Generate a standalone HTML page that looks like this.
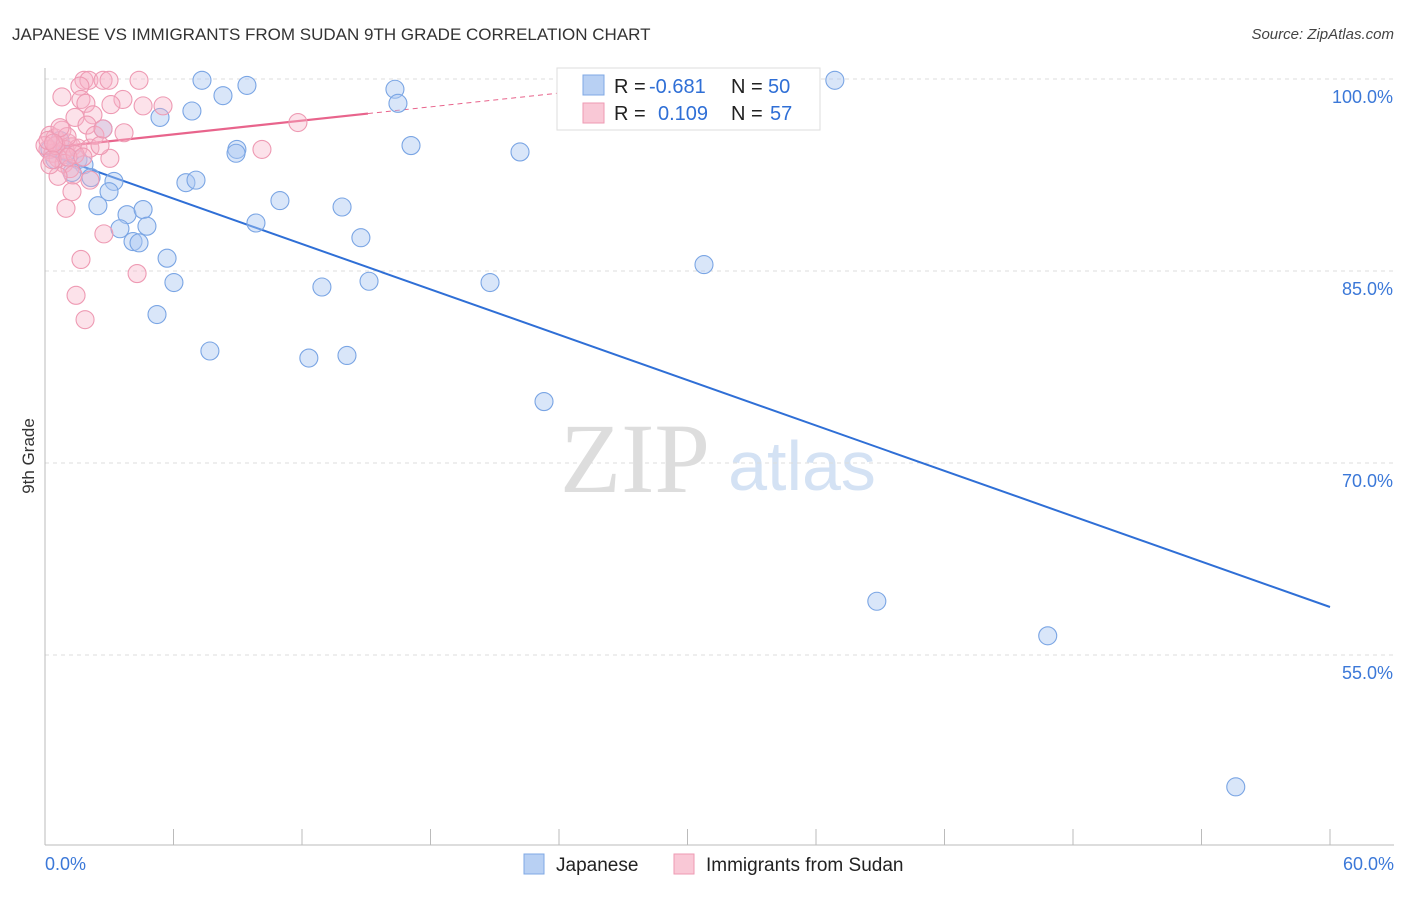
<!DOCTYPE html>
<html><head><meta charset="utf-8"><style>
body{margin:0;background:#fff;font-family:"Liberation Sans",sans-serif}
</style></head><body>
<svg id="c" width="1406" height="892" viewBox="0 0 1406 892" font-family="Liberation Sans, sans-serif">
<text x="12" y="40" font-size="17" fill="#333">JAPANESE VS IMMIGRANTS FROM SUDAN 9TH GRADE CORRELATION CHART</text>
<text x="1394" y="39" font-size="15" fill="#444" font-style="italic" text-anchor="end">Source: ZipAtlas.com</text>
<text x="34" y="456" font-size="17" fill="#333" transform="rotate(-90 34 456)" text-anchor="middle">9th Grade</text>
<g><text x="635" y="492" font-size="100" fill="#ddd" text-anchor="middle" style="font-family:'Liberation Serif',serif">ZIP</text><text x="802" y="490" font-size="70" fill="#d4e2f4" text-anchor="middle">atlas</text></g>
<g id="grid"></g><g id="axes"></g><g id="trend"></g><g id="pts"></g>
<g>
<rect x="557" y="68" width="263" height="62" fill="#fff" stroke="#ddd"/>
<rect x="583" y="75" width="21" height="20" fill="#b8d0f3" stroke="#7fa8e4"/>
<rect x="583" y="103" width="21" height="20" fill="#f9c8d6" stroke="#ee9ab3"/>
<text x="614" y="93" font-size="20" fill="#222">R =</text><text x="649" y="93" font-size="20" fill="#2f6fd6">-0.681</text>
<text x="731" y="93" font-size="20" fill="#222">N =</text><text x="768" y="93" font-size="20" fill="#2f6fd6">50</text>
<text x="614" y="120" font-size="20" fill="#222">R =</text><text x="658" y="120" font-size="20" fill="#2f6fd6">0.109</text>
<text x="731" y="120" font-size="20" fill="#222">N =</text><text x="770" y="120" font-size="20" fill="#2f6fd6">57</text>
</g>
<g>
<rect x="524" y="854" width="20" height="20" fill="#b8d0f3" stroke="#7fa8e4"/>
<text x="556" y="871" font-size="19" fill="#222">Japanese</text>
<rect x="674" y="854" width="20" height="20" fill="#f9c8d6" stroke="#ee9ab3"/>
<text x="706" y="871" font-size="19" fill="#222">Immigrants from Sudan</text>
</g>
</svg>
<script>
const yTicks=[100,85,70,55];
const xTickLabels=["0.0%","60.0%"];
const blueX=[7.33,9.43,8.31,16.34,16.48,6.86,5.37,2.71,8.96,8.92,17.09,22.18,1.54,1.82,1.26,2.15,3.22,6.58,7.05,2.99,10.97,2.47,13.87,3.83,4.58,9.85,3.5,4.76,14.75,4.11,4.39,5.7,30.77,6.02,12.93,15.13,20.78,5.23,7.7,12.32,14.1,23.3,38.84,46.82,55.6,36.88,0.47,0.93,0.23,0.7];
const blueY=[99.9,99.5,98.7,99.2,98.1,97.5,97.0,96.1,94.5,94.2,94.8,94.3,93.7,93.3,92.7,92.3,92.0,91.9,92.1,91.2,90.5,90.1,90.0,89.4,89.8,88.75,88.3,88.5,87.6,87.3,87.2,86.0,85.5,84.1,83.75,84.2,84.1,81.6,78.75,78.2,78.4,74.8,59.2,56.5,44.7,99.9,93.7,94.1,94.5,95.2];
const pinkX=[1.82,2.05,2.71,2.99,4.39,1.63,0.79,1.68,1.91,3.64,3.08,4.58,5.51,2.24,1.4,1.96,3.69,11.81,10.13,0.23,0.47,1.07,1.26,0.14,0.37,0.93,1.54,2.1,0.61,0.89,1.17,3.03,1.31,2.1,0.61,1.26,0.98,2.75,1.68,4.3,1.45,1.87,0.23,0.79,0.0,0.51,1.03,1.4,2.33,0.33,1.07,1.77,2.57,0.7,0.14,2.71,0.4];
const pinkY=[99.9,99.9,99.9,99.9,99.9,99.45,98.6,98.4,98.1,98.4,98.0,97.9,97.9,97.2,97.0,96.4,95.8,96.6,94.5,95.6,95.4,95.0,94.7,94.5,94.2,94.5,94.6,94.6,93.8,93.4,93.0,93.8,92.5,92.1,92.4,91.2,89.9,87.9,85.9,84.8,83.1,81.2,93.3,96.0,94.8,94.8,95.5,94.1,95.6,93.7,93.9,93.9,94.8,96.2,95.2,96.1,95.0];
const blueTrend=[[0,94.2],[60,58.75]];
const pinkTrend=[[0,94.6],[15.08,97.3]];
const pinkDash=[[15.08,97.3],[24,98.9]];
const X=v=>45+v*1285/60, Y=v=>79+(100-v)*12.8;
const NS="http://www.w3.org/2000/svg";
function mk(t,a,p){const e=document.createElementNS(NS,t);for(const k in a)e.setAttribute(k,a[k]);document.getElementById(p).appendChild(e);return e;}
yTicks.forEach(t=>{
 const l=mk('line',{x1:45,x2:1394,y1:Y(t),y2:Y(t),stroke:'#ddd','stroke-dasharray':'4 4'},'grid');
 
 
 const tx=mk('text',{x:1393,y:Y(t)+24,'font-size':18,fill:'#3b78d8','text-anchor':'end'},'grid');
 tx.textContent=t.toFixed(1)+'%';
 
 
});
mk('line',{x1:45,x2:45,y1:68,y2:845,stroke:'#bbb'},'axes');
mk('line',{x1:45,x2:1394,y1:845,y2:845,stroke:'#bbb'},'axes');
for(let i=0;i<=10;i++){const t=mk('line',{x1:X(i*6),x2:X(i*6),y1:829,y2:845,stroke:'#bbb'},'axes');}
[[0,'start',45],[60,'end',1394]].forEach((d,i)=>{const t=mk('text',{x:d[2],y:870,'font-size':18,fill:'#3b78d8','text-anchor':d[1]},'axes');t.textContent=xTickLabels[i];});
blueX.forEach((v,i)=>{const c=mk('circle',{cx:X(v),cy:Y(blueY[i]),r:9,fill:'rgba(170,200,242,0.45)',stroke:'#7aa5e4','stroke-width':1.1},'pts');
 
 });
pinkX.forEach((v,i)=>{const c=mk('circle',{cx:X(v),cy:Y(pinkY[i]),r:9,fill:'rgba(246,180,200,0.38)',stroke:'#ee9ab3','stroke-width':1.1},'pts');
 
 });
let l=mk('line',{x1:X(blueTrend[0][0]),y1:Y(blueTrend[0][1]),x2:X(blueTrend[1][0]),y2:Y(blueTrend[1][1]),stroke:'#2f6fd6','stroke-width':2},'trend');


l=mk('line',{x1:X(pinkTrend[0][0]),y1:Y(pinkTrend[0][1]),x2:X(pinkTrend[1][0]),y2:Y(pinkTrend[1][1]),stroke:'#e8648c','stroke-width':2.2},'trend');


l=mk('line',{x1:X(pinkDash[0][0]),y1:Y(pinkDash[0][1]),x2:X(pinkDash[1][0]),y2:Y(pinkDash[1][1]),stroke:'#e8648c','stroke-width':1,'stroke-dasharray':'5 4'},'trend');


</script>
</body></html>
